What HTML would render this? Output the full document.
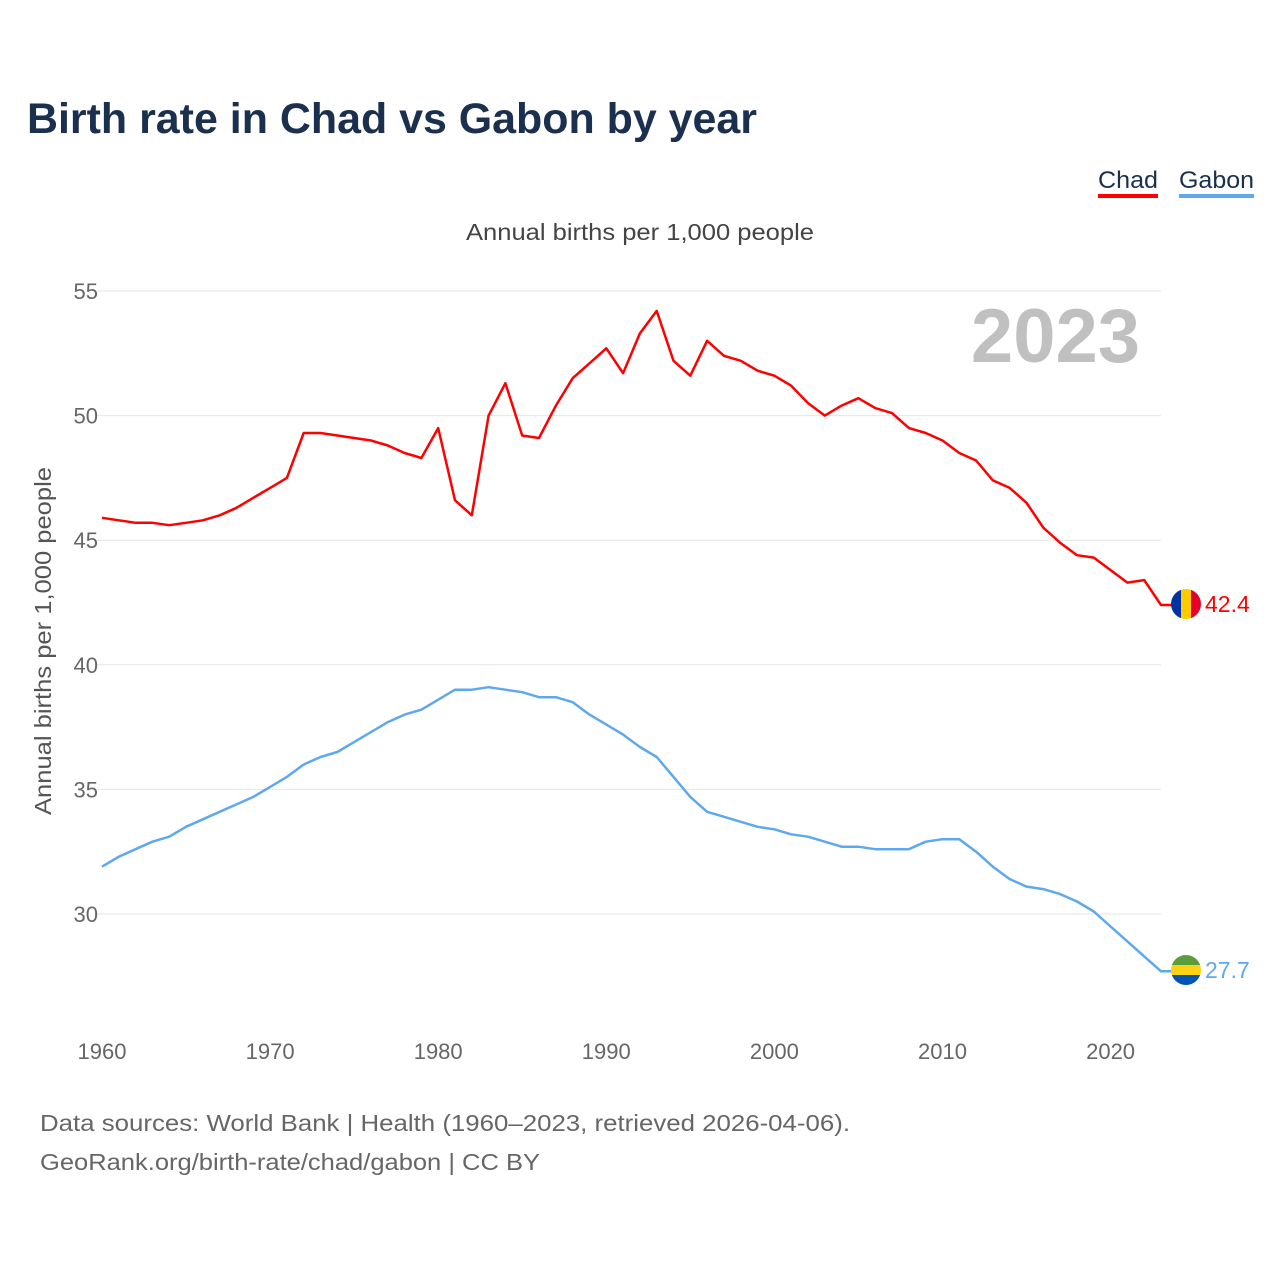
<!DOCTYPE html>
<html><head><meta charset="utf-8">
<style>
body{margin:0;background:#fff;font-family:"Liberation Sans",sans-serif;}
svg text{font-family:"Liberation Sans",sans-serif;}
</style></head>
<body>
<svg width="1280" height="1280" viewBox="0 0 1280 1280">
<text x="27" y="133" font-size="43" font-weight="bold" fill="#1b2f4e" textLength="730" lengthAdjust="spacingAndGlyphs">Birth rate in Chad vs Gabon by year</text>
<g>
<text x="1098" y="188" font-size="24" fill="#1b2f4e" textLength="60" lengthAdjust="spacingAndGlyphs">Chad</text>
<rect x="1098" y="194" width="60" height="4" fill="#ff0000"/>
<text x="1179" y="188" font-size="24" fill="#1b2f4e" textLength="75" lengthAdjust="spacingAndGlyphs">Gabon</text>
<rect x="1179" y="194" width="75" height="4" fill="#5ea8ee"/>
</g>
<text x="466" y="240" font-size="23" fill="#444" textLength="348" lengthAdjust="spacingAndGlyphs">Annual births per 1,000 people</text>
<text x="1140" y="362" font-size="76" font-weight="bold" fill="#c0c0c0" text-anchor="end">2023</text>
<text transform="translate(51,815) rotate(-90)" font-size="23" fill="#555" textLength="348" lengthAdjust="spacingAndGlyphs">Annual births per 1,000 people</text>
<g id="grid"></g><g id="lines"></g>
<g>
<clipPath id="c1"><circle cx="1186" cy="604" r="15"/></clipPath>
<g clip-path="url(#c1)"><rect x="1171" y="589" width="10" height="30" fill="#0033a0"/><rect x="1181" y="589" width="10" height="30" fill="#fecb00"/><rect x="1191" y="589" width="10" height="30" fill="#e4002b"/></g>
</g>
<g>
<clipPath id="c2"><circle cx="1186" cy="970" r="15"/></clipPath>
<g clip-path="url(#c2)"><rect x="1171" y="955" width="30" height="10" fill="#5a9e3a"/><rect x="1171" y="965" width="30" height="10" fill="#fcd116"/><rect x="1171" y="975" width="30" height="10" fill="#0054b4"/></g>
</g>
<text x="1205" y="612" font-size="23" fill="#ff0000">42.4</text>
<text x="1205" y="978" font-size="23" fill="#5ea8ee">27.7</text>
<text x="40" y="1131" font-size="23" fill="#666" textLength="810" lengthAdjust="spacingAndGlyphs">Data sources: World Bank | Health (1960–2023, retrieved 2026-04-06).</text>
<text x="40" y="1170" font-size="23" fill="#666" textLength="500" lengthAdjust="spacingAndGlyphs">GeoRank.org/birth-rate/chad/gabon | CC BY</text>
</svg>
<script>
const years=[];for(let y=1960;y<=2023;y++)years.push(y);
const chad=[45.9,45.8,45.7,45.7,45.6,45.7,45.8,46.0,46.3,46.7,47.1,47.5,49.3,49.3,49.2,49.1,49.0,48.8,48.5,48.3,49.5,46.6,46.0,50.0,51.3,49.2,49.1,50.4,51.5,52.1,52.7,51.7,53.3,54.2,52.2,51.6,53.0,52.4,52.2,51.8,51.6,51.2,50.5,50.0,50.4,50.7,50.3,50.1,49.5,49.3,49.0,48.5,48.2,47.4,47.1,46.5,45.5,44.9,44.4,44.3,43.8,43.3,43.4,42.4];
const gabon=[31.9,32.3,32.6,32.9,33.1,33.5,33.8,34.1,34.4,34.7,35.1,35.5,36.0,36.3,36.5,36.9,37.3,37.7,38.0,38.2,38.6,39.0,39.0,39.1,39.0,38.9,38.7,38.7,38.5,38.0,37.6,37.2,36.7,36.3,35.5,34.7,34.1,33.9,33.7,33.5,33.4,33.2,33.1,32.9,32.7,32.7,32.6,32.6,32.6,32.9,33.0,33.0,32.5,31.9,31.4,31.1,31.0,30.8,30.5,30.1,29.5,28.9,28.3,27.7];
const yTicks=[30,35,40,45,50,55];
const xTicks=[1960,1970,1980,1990,2000,2010,2020];
const NS='http://www.w3.org/2000/svg';
const xs=y=>102+(y-1960)*(1161-102)/63;
const ys=v=>914-(v-30)*(914-291)/25;
const grid=document.getElementById('grid'),lines=document.getElementById('lines');
function mk(t,a,p){const e=document.createElementNS(NS,t);for(const k in a)e.setAttribute(k,a[k]);p.appendChild(e);return e;}
yTicks.forEach(v=>{
 const l=mk('line',{x1:97,x2:1161,y1:ys(v),y2:ys(v),stroke:'#e6e6e6','stroke-width':1},grid);
 
 
 const t=mk('text',{x:98,y:ys(v)+8,'font-size':22,fill:'#666','text-anchor':'end'},grid);t.textContent=v;
 
 
});
xTicks.forEach(y=>{
 const t=mk('text',{x:xs(y),y:1059,'font-size':22,fill:'#666','text-anchor':'middle'},grid);t.textContent=y;
 
 
});
function line(data,color,name){
 let d=data.map((v,i)=>(i?'L':'M')+xs(years[i]).toFixed(1)+' '+ys(v).toFixed(1)).join(' ');
 d+=' L1172 '+ys(data[data.length-1]).toFixed(1);
 const p=mk('path',{d:d,fill:'none',stroke:color,'stroke-width':2.5,'stroke-linejoin':'round'},lines);
 
 
}
line(chad,'#ff0000','chad-line');
line(gabon,'#5ea8ee','gabon-line');
</script>
</body></html>
